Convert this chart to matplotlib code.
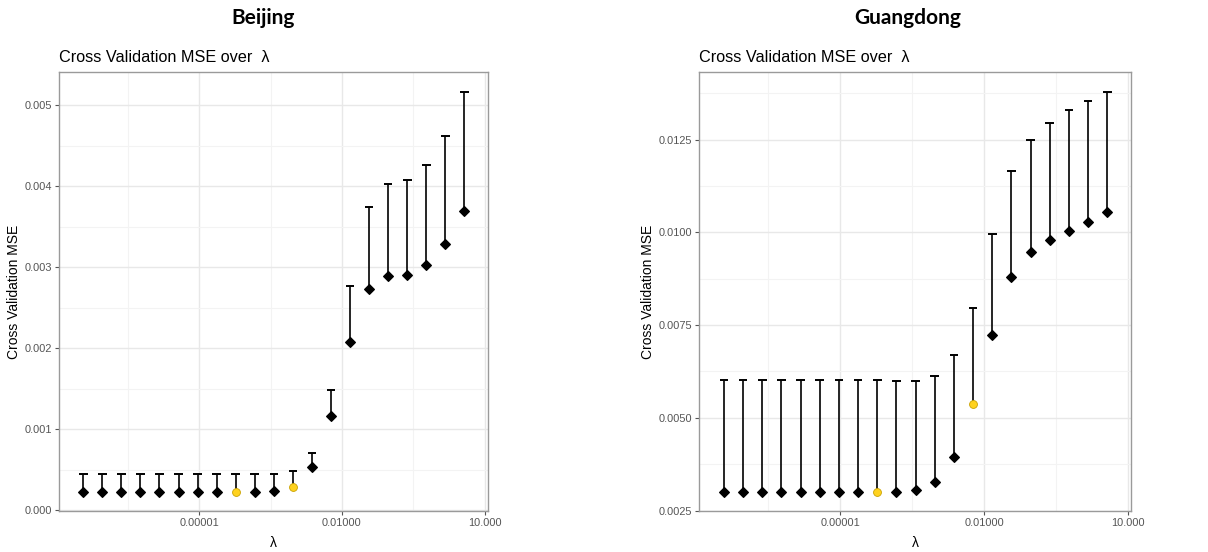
import numpy as np
import matplotlib
matplotlib.use('Agg')
import matplotlib.pyplot as plt
from matplotlib.ticker import FixedLocator, FixedFormatter, NullFormatter

# lambda grid (log10)
log_lambda = [-7.43, -7.03, -6.63, -6.23, -5.83, -5.43, -5.03, -4.63, -4.23, -3.83, -3.43,
              -3.03, -2.63, -2.23, -1.83, -1.43, -1.03, -0.63, -0.23, 0.17, 0.57]
lambdas = [10 ** v for v in log_lambda]

# Beijing: mean CV MSE and upper bar
bj_mse = [0.000219, 0.000219, 0.000219, 0.000219, 0.000219, 0.000219, 0.000219, 0.000219,
          0.000219, 0.000219, 0.000231, 0.000289, 0.000528, 0.001155, 0.002074, 0.00273,
          0.00289, 0.0029, 0.00302, 0.00329, 0.00369]
bj_upper = [0.000441, 0.000441, 0.000441, 0.000441, 0.000441, 0.000441, 0.000441, 0.000441,
            0.000441, 0.000441, 0.000441, 0.000478, 0.000709, 0.001485, 0.002771, 0.00374,
            0.00403, 0.00408, 0.00426, 0.00462, 0.00516]
bj_best = [8, 11]

# Guangdong
gd_mse = [0.00301, 0.00301, 0.00301, 0.00301, 0.00301, 0.00301, 0.00301, 0.00301,
          0.00301, 0.00301, 0.00305, 0.00326, 0.00395, 0.00536, 0.00724, 0.0088,
          0.00947, 0.0098, 0.01004, 0.01027, 0.01054]
gd_upper = [0.00603, 0.00603, 0.00603, 0.00603, 0.00603, 0.00603, 0.00603, 0.00603,
            0.00601, 0.0060, 0.0060, 0.00614, 0.00668, 0.00797, 0.00996, 0.01166,
            0.01249, 0.01295, 0.01329, 0.01354, 0.01379]
gd_best = [8, 13]

plt.rcParams['font.family'] = ['Liberation Sans', 'DejaVu Sans']

fig = plt.figure(figsize=(12.08, 5.52), dpi=100)


def draw_panel(ax, mse, upper, best, yticks, ylabels, ylim, ylab_x):
    x = np.array(lambdas)
    mse = np.array(mse)
    upper = np.array(upper)
    ax.set_xscale('log')
    ax.set_xlim(10 ** -7.94, 10 ** 1.06)
    ax.set_ylim(*ylim)
    # grid
    ax.xaxis.set_major_locator(FixedLocator([1e-5, 1e-2, 10]))
    ax.xaxis.set_major_formatter(FixedFormatter(['0.00001', '0.01000', '10.000']))
    ax.xaxis.set_minor_locator(FixedLocator([10 ** -6.5, 10 ** -3.5, 10 ** -0.5]))
    ax.xaxis.set_minor_formatter(NullFormatter())
    ax.yaxis.set_major_locator(FixedLocator(yticks))
    ax.yaxis.set_major_formatter(FixedFormatter(ylabels))
    step = yticks[1] - yticks[0]
    ax.yaxis.set_minor_locator(FixedLocator([t + step / 2 for t in yticks]))
    ax.grid(True, which='major', color='#e8e8e8', linewidth=1.0)
    ax.grid(True, which='minor', color='#f3f3f3', linewidth=0.8)
    ax.set_axisbelow(True)
    ax.tick_params(which='minor', length=0)
    ax.tick_params(which='major', length=3, width=0.8, color='#555555',
                   labelsize=7.9, labelcolor='#555555', pad=2)
    for s in ax.spines.values():
        s.set_color('#9a9a9a')
        s.set_linewidth(1.0)

    # upper error bars
    ax.vlines(x, mse, upper, color='black', linewidth=1.2, zorder=2)
    cap = 10 ** 0.09
    ax.hlines(upper, x / cap, x * cap, color='black', linewidth=1.4, zorder=2)
    normal = [i for i in range(len(x)) if i not in best]
    ax.scatter(x[normal], mse[normal], marker='D', s=24, color='black', zorder=3)
    ax.scatter(x[best], mse[best], marker='o', s=32, color='#FFD21F',
               edgecolors='#c9a200', linewidths=0.6, zorder=3)

    ax.set_xlabel('λ', fontsize=10)
    ax.set_ylabel('Cross Validation MSE', fontsize=10)
    ax.xaxis.set_label_coords(0.5, -0.058)
    ax.yaxis.set_label_coords(ylab_x, 0.5)
    ax.set_title('Cross Validation MSE over  λ', loc='left', fontsize=11.7, pad=7)


ax1 = fig.add_axes([0.0488, 0.0743, 0.355, 0.7953])
draw_panel(ax1, bj_mse, bj_upper, bj_best,
           [0.000, 0.001, 0.002, 0.003, 0.004, 0.005],
           ['0.000', '0.001', '0.002', '0.003', '0.004', '0.005'],
           (-0.000012, 0.00541), -0.089)

ax2 = fig.add_axes([0.579, 0.0743, 0.357, 0.7953])
draw_panel(ax2, gd_mse, gd_upper, gd_best,
           [0.0025, 0.0050, 0.0075, 0.0100, 0.0125],
           ['0.0025', '0.0050', '0.0075', '0.0100', '0.0125'],
           (0.00249, 0.01432), -0.103)

fig.text(263 / 1208, 1 - 18 / 552, 'Beijing', ha='center', va='center',
         fontsize=15, fontweight='bold', family=['Lato', 'DejaVu Sans'])
fig.text(908 / 1208, 1 - 18 / 552, 'Guangdong', ha='center', va='center',
         fontsize=15, fontweight='bold', family=['Lato', 'DejaVu Sans'])

fig.savefig('out.png', dpi=100)
